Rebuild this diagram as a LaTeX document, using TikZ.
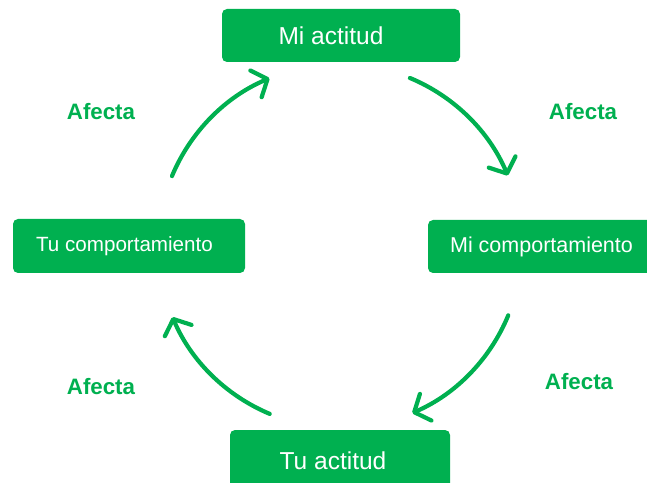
\documentclass[tikz,border=0pt]{standalone}
\usepackage{fontspec}
\setmainfont{Liberation Sans}
\usetikzlibrary{arrows.meta,calc}
\definecolor{ogreen}{HTML}{00B050}
\tikzset{
  box/.style={fill=ogreen, rounded corners=5pt, inner sep=0pt, anchor=center},
  btxt/.style={text=white, inner sep=0pt},
  lbl/.style={text=ogreen, font=\fontsize{22.3}{24}\selectfont\bfseries, inner sep=0pt},
  cyc/.style={draw=ogreen, line width=4.2pt, line cap=round, -{Straight Barb[length=12.5pt,width=29pt,line cap=round,round]}}
}
\begin{document}
\begin{tikzpicture}[x=1pt,y=1pt]
\clip (0,0) rectangle (647,482);
\node[box, minimum width=238pt, minimum height=53pt] (ma) at (341,446.5) {};
\node[box, minimum width=232pt, minimum height=54pt] (tc) at (129,236) {};
\node[box, minimum width=232pt, minimum height=53pt] (mc) at (544,235.5) {};
\node[box, minimum width=220pt, minimum height=62pt] (ta) at (340,21) {};

\node[btxt, font=\fontsize{24.5}{26}\selectfont] (mat) at ($(ma.center)+(-10,0)$) {Mi actitud};
\node[btxt, font=\fontsize{20.6}{22}\selectfont] (tct) at ($(tc.center)+(-4.5,0)$) {Tu comportamiento};
\node[btxt, font=\fontsize{21.5}{22}\selectfont] (mct) at ($(mc.center)+(-2.5,0)$) {Mi comportamiento};
\node[btxt, font=\fontsize{24.5}{26}\selectfont] (tat) at ($(ta.center)+(-7,0)$) {Tu actitud};

\node[lbl] (l1) at (101,370) {Afecta};
\node[lbl] (l2) at (583,370) {Afecta};
\node[lbl] (l3) at (101,95) {Afecta};
\node[lbl] (l4) at (579,100) {Afecta};

\coordinate (o) at (340,236);
\coordinate (s1) at ($(o)+(157.4:182)$);
\coordinate (s2) at ($(o)+(67.4:182)$);
\coordinate (s3) at ($(o)+(-22.4:182)$);
\coordinate (s4) at ($(o)+(-112.7:182)$);
\draw[cyc] (s1) arc[start angle=157.4, end angle=112.8, radius=182];
\draw[cyc] (s2) arc[start angle=67.4, end angle=22.8, radius=182];
\draw[cyc] (s3) arc[start angle=-22.4, end angle=-66.6, radius=182];
\draw[cyc] (s4) arc[start angle=-112.7, end angle=-157, radius=182];
\end{tikzpicture}
\end{document}
